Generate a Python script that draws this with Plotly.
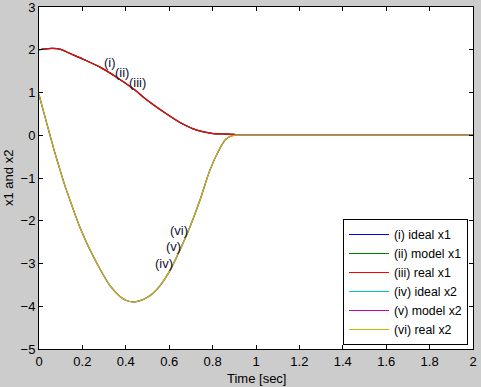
import plotly.graph_objects as go

# ---- data ----
t_x1 = [0.0, 0.03, 0.06, 0.10, 0.135, 0.212, 0.289, 0.366, 0.442, 0.496, 0.573,
        0.65, 0.727, 0.796, 0.85, 0.90, 0.91, 0.93, 0.96, 1.0, 1.2, 1.6, 2.0]
x1_vals = [2.00, 2.02, 2.03, 2.01, 1.93, 1.76, 1.57, 1.33, 1.06, 0.83, 0.55,
           0.30, 0.12, 0.045, 0.03, 0.02, 0.0, 0.0, 0.0, 0.0, 0.0, 0.0, 0.0]

t_x2 = [0.0, 0.0276, 0.0507, 0.0737, 0.0968, 0.12, 0.143, 0.166, 0.189, 0.212,
        0.235, 0.281, 0.327, 0.373, 0.40, 0.435, 0.466, 0.496, 0.527, 0.558, 0.604,
        0.65, 0.696, 0.742, 0.788, 0.834, 0.86, 0.88, 0.903, 0.92, 0.94, 0.97, 1.0,
        1.2, 1.6, 2.0]
x2_vals = [0.95, 0.43, 0.0, -0.42, -0.81, -1.19, -1.52, -1.85, -2.16, -2.43,
           -2.68, -3.13, -3.52, -3.77, -3.86, -3.90, -3.87, -3.80, -3.69, -3.52, -3.16,
           -2.68, -2.14, -1.515, -0.81, -0.305, -0.10, -0.03, 0.0, 0.0, 0.0, 0.0, 0.0,
           0.0, 0.0, 0.0]

ideal_x1 = list(x1_vals)
model_x1 = list(x1_vals)
real_x1 = list(x1_vals)
ideal_x2 = list(x2_vals)
model_x2 = list(x2_vals)
real_x2 = list(x2_vals)

series_names = ["(i) ideal x1", "(ii) model x1", "(iii) real x1",
                "(iv) ideal x2", "(v) model x2", "(vi) real x2"]
series_colors = ["#0000FF", "#008000", "#FF0000", "#00BFBF", "#BF00BF", "#BFBF00"]

label_text = ["(i)", "(ii)", "(iii)", "(iv)", "(v)", "(vi)"]
label_t = [0.325, 0.384, 0.455, 0.575, 0.619, 0.644]
label_y = [1.70, 1.46, 1.23, -3.00, -2.61, -2.22]

x_ticks = [0, 0.2, 0.4, 0.6, 0.8, 1, 1.2, 1.4, 1.6, 1.8, 2]
x_tick_text = ["0", "0.2", "0.4", "0.6", "0.8", "1", "1.2", "1.4", "1.6", "1.8", "2"]
y_ticks = [-5, -4, -3, -2, -1, 0, 1, 2, 3]

FONT = "Liberation Sans, Arial, sans-serif"
FS = 13

fig = go.Figure()
ys = [ideal_x1, model_x1, real_x1, ideal_x2, model_x2, real_x2]
ts = [t_x1, t_x1, t_x1, t_x2, t_x2, t_x2]
for name, col, tt, yy in zip(series_names, series_colors, ts, ys):
    fig.add_trace(go.Scatter(x=tt, y=yy, mode="lines", name=name,
                             line=dict(color=col, width=1.2, shape="spline", smoothing=0.7)))

for txt, tx, ty in zip(label_text, label_t, label_y):
    fig.add_annotation(x=tx, y=ty, text=txt, showarrow=False,
                       font=dict(family=FONT, size=FS, color="#101030"))

# axis titles
fig.add_annotation(x=0.5, y=-0.058, xref="paper", yref="paper", text="Time [sec]",
                   showarrow=False, xanchor="center", yanchor="top",
                   font=dict(family=FONT, size=FS, color="black"))
fig.add_annotation(x=-0.0714, y=0.5, xref="paper", yref="paper", text="x1 and x2",
                   showarrow=False, xanchor="center", yanchor="middle", textangle=-90,
                   font=dict(family=FONT, size=FS, color="black"))

axis_common = dict(showline=True, linecolor="black", linewidth=1, mirror="ticks",
                   ticks="inside", ticklen=4, tickcolor="black", showgrid=False,
                   zeroline=False, automargin=False, ticklabeloverflow="allow",
                   tickfont=dict(family=FONT, size=FS, color="black"))

fig.update_xaxes(range=[0, 2], tickvals=x_ticks, ticktext=x_tick_text, **axis_common)
fig.update_yaxes(range=[-5, 3], tickvals=y_ticks, **axis_common)

fig.update_layout(
    width=481, height=387,
    margin=dict(l=39, r=8, t=7, b=38, autoexpand=False),
    paper_bgcolor="#CCCCCC", plot_bgcolor="white",
    font=dict(family=FONT, size=FS, color="black"),
    legend=dict(x=0.9885, y=0.0117, xanchor="right", yanchor="bottom",
                bgcolor="white", bordercolor="black", borderwidth=1,
                itemwidth=40, font=dict(family=FONT, size=12.3, color="black"),
                tracegroupgap=0),
    showlegend=True,
)

fig.write_html("out.html", config={"displayModeBar": False},
               post_script="document.body.style.margin='0';document.body.style.overflow='hidden';")
